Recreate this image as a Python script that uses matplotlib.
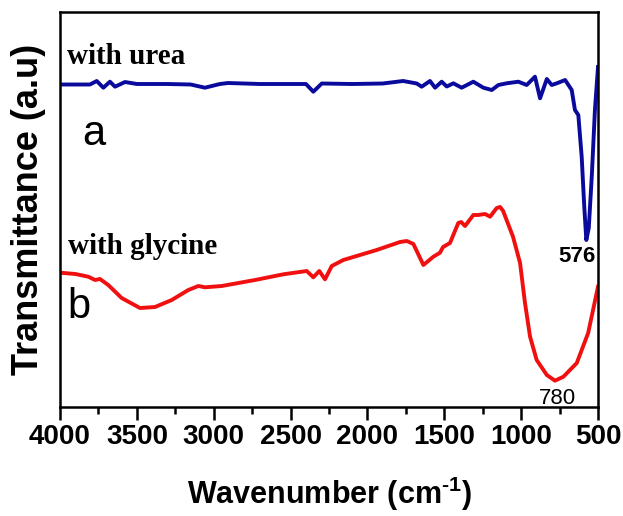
import numpy as np
import matplotlib
matplotlib.use("Agg")
import matplotlib.pyplot as plt
from matplotlib.ticker import MultipleLocator

# 字体设置
plt.rcParams['font.family'] = ['Liberation Sans', 'DejaVu Sans']
plt.rcParams['mathtext.fontset'] = 'custom'
plt.rcParams['mathtext.rm'] = 'Liberation Sans:bold'
plt.rcParams['mathtext.bf'] = 'Liberation Sans:bold'

# 数据：波数 (cm-1) 与透过率 (a.u.)
urea_wn = [4000, 3900, 3805, 3761, 3718, 3675, 3642, 3577, 3500, 3300,
           3150, 3057, 2960, 2907, 2700, 2400, 2352, 2297, 2100, 1900,
           1768, 1679, 1647, 1593, 1560, 1517, 1484, 1441, 1387, 1311,
           1246, 1191, 1148, 1094, 1018, 964, 910, 877, 833, 801,
           768, 714, 671, 650, 628, 606, 590, 576, 560, 540,
           520, 500]
urea_t = [322.5, 322.5, 322.5, 326, 319.3, 325.3, 320.3, 325, 323, 323,
          322.5, 319.3, 323, 324, 323, 323, 315.3, 323.5, 323, 323.5,
          326, 323.5, 320.3, 326, 319.3, 325.3, 320.5, 323.7, 319.3, 325.3,
          319.3, 317, 322, 323.7, 325.3, 322, 330.3, 308.7, 328, 322,
          323.7, 327, 317, 297, 292, 250, 202, 167, 179, 232,
          297, 340]

gly_wn = [4000, 3900, 3816, 3772, 3740, 3686, 3599, 3480, 3382, 3273,
          3165, 3100, 3057, 2948, 2731, 2547, 2395, 2352, 2313, 2276,
          2232, 2157, 1940, 1788, 1744, 1701, 1636, 1571, 1528, 1508,
          1463, 1409, 1390, 1365, 1311, 1280, 1235, 1202, 1159, 1137,
          1118, 1053, 1007, 975, 942, 899, 833, 780, 725, 638,
          564, 500]
gly_t = [134.3, 133, 130.3, 127, 128, 122, 109, 99, 100, 107,
         117, 121, 119.7, 121, 127, 132.7, 136, 129.7, 136, 127.7,
         141, 147, 157, 165, 166, 163, 142, 150.3, 154.3, 160,
         164, 184, 185, 181, 192, 192, 193, 190.3, 199, 200,
         196.3, 170.3, 144, 104, 70.3, 47, 32, 26.3, 30.3, 44,
         74, 120.3]

xticks = [4000, 3500, 3000, 2500, 2000, 1500, 1000, 500]

fig = plt.figure(figsize=(6.23, 5.16), dpi=100)
ax = fig.add_axes([60 / 623, 109 / 516, 538 / 623, 395 / 516])

ax.plot(urea_wn, urea_t, color='#0a0a9c', lw=2.8, solid_joinstyle='round')
ax.plot(gly_wn, gly_t, color='#f01010', lw=2.8, solid_joinstyle='round')

ax.set_xlim(4000, 500)
ax.set_ylim(0, 395)
ax.set_xticks(xticks)
ax.xaxis.set_minor_locator(MultipleLocator(250))
ax.set_yticks([])
for s in ax.spines.values():
    s.set_linewidth(1.8)
ax.tick_params(axis='x', which='major', direction='out', length=9, width=1.8,
               pad=3, labelsize=20)
ax.tick_params(axis='x', which='minor', direction='out', length=5, width=1.8)
for lab in ax.get_xticklabels():
    lab.set_fontweight('bold')

ax.set_xlabel(r'Wavenumber (cm$^{\text{-}1}$)', fontsize=22, fontweight='bold',
              labelpad=18)
ax.set_ylabel('Transmittance (a.u)', fontsize=26, fontweight='bold', labelpad=10)

# 文本标注
serif = ['Liberation Serif', 'DejaVu Serif']
ax.text(3956, 343.5, 'with urea', family=serif, fontsize=21, fontweight='bold',
        va='baseline')
ax.text(3950, 153, 'with glycine', family=serif, fontsize=21, fontweight='bold',
        va='baseline')
ax.text(3857, 262, 'a', fontsize=30, va='baseline')
ax.text(3954, 89, 'b', fontsize=30, va='baseline')
ax.text(640, 150, '576', fontsize=16, fontweight='bold', ha='center', va='center')
ax.text(766, 8, '780', fontsize=16, ha='center', va='center')

plt.savefig('out.png', dpi=100)
